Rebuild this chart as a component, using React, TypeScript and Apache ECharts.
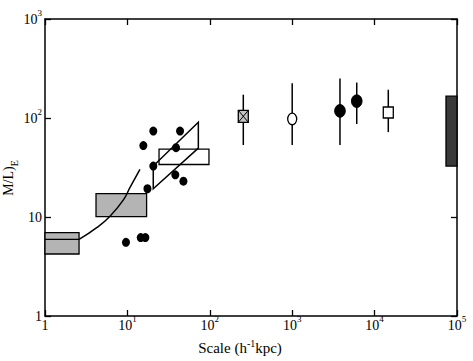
import React, { useEffect, useRef } from 'react';
import * as echarts from 'echarts';

// Scattered galaxy points
const DOT_X = [15.6, 20.6, 43.5, 38.9, 20.6, 17.5, 38.1, 47.8, 9.6, 14.5, 16.5];
const DOT_Y = [52.6, 73.8, 73.8, 50.2, 32.7, 19.3, 26.7, 23.0, 5.55, 6.2, 6.2];

// Flat segment and curve
const FLAT_X = [1, 2.59];
const FLAT_Y = [5.93, 5.93];
const CURVE_X = [2.59, 4.24, 6.15, 8.9, 10.8, 14.2];
const CURVE_Y = [5.93, 7.8, 10.2, 14.8, 20.0, 30.3];

// Rectangles: x-range and y-range
const BOX_X0 = [1, 4.16, 24.2, 73500];
const BOX_X1 = [2.59, 17.1, 97.7, 100000];
const BOX_Y0 = [4.23, 10.07, 33.9, 32.7];
const BOX_Y1 = [6.96, 17.2, 48.5, 166];
const BOX_KIND = ['light', 'light', 'open', 'dark'];

// Parallelogram vertices
const PARA_X = [20.6, 72.6, 72.6, 20.6];
const PARA_Y = [19.3, 49.6, 90.5, 32.7];

// Error-bar points
const ERR_X = [255, 1000, 3800, 6070, 14660];
const ERR_Y = [104, 97.8, 118, 148, 113.6];
const ERR_LO = [53.4, 53.4, 53.4, 87, 72];
const ERR_HI = [172, 224, 250, 228, 193];
const ERR_MARK = ['crossedSquare', 'openCircle', 'filledCircle', 'filledCircle', 'openSquare'];

// Tick labels
const X_TICKS = [1, 10, 100, 1000, 10000, 100000];
const X_TICK_LABELS = ['1', '10^1', '10^2', '10^3', '10^4', '10^5'];
const Y_TICKS = [1, 10, 100, 1000];
const Y_TICK_LABELS = ['1', '10', '10^2', '10^3'];

const FONT = "'Liberation Serif', 'Times New Roman', serif";

function richLabel(lbl: string, plainStyle: string) {
  if (lbl.includes('^')) {
    const [b, s] = lbl.split('^');
    return `{b|${b}}{s|${s}}`;
  }
  return `{${plainStyle}|${lbl}}`;
}

function findLabel(ticks: number[], labels: string[], v: number) {
  let best = 0;
  for (let i = 0; i < ticks.length; i++) {
    if (Math.abs(Math.log10(ticks[i]) - Math.log10(v)) < Math.abs(Math.log10(ticks[best]) - Math.log10(v))) best = i;
  }
  return labels[best];
}

export default function App() {
  const ref = useRef<HTMLDivElement>(null);
  useEffect(() => {
    if (!ref.current) return;
    const chart = echarts.init(ref.current, null, { renderer: 'svg' });
    const axisLine = { show: true, lineStyle: { color: '#000', width: 1.5 } };
    const axisTick = { show: true, inside: true, length: 6, lineStyle: { color: '#000', width: 1.3 } };

    const xRich = {
      b: { fontFamily: FONT, fontSize: 14, lineHeight: 14, color: '#000', verticalAlign: 'bottom' },
      s: { fontFamily: FONT, fontSize: 9, lineHeight: 9, color: '#000', verticalAlign: 'bottom', padding: [0, 0, 9, 0] },
      p: { fontFamily: FONT, fontSize: 14, lineHeight: 14, color: '#000', verticalAlign: 'bottom', padding: [4, 0, 0, 0] },
    };
    const yRich = {
      b: { fontFamily: FONT, fontSize: 14, lineHeight: 14, color: '#000', verticalAlign: 'bottom', padding: [12, 0, 0, 0] },
      s: { fontFamily: FONT, fontSize: 9, lineHeight: 9, color: '#000', verticalAlign: 'bottom', padding: [0, 0, 9, 0] },
      p: { fontFamily: FONT, fontSize: 14, lineHeight: 14, color: '#000', verticalAlign: 'bottom' },
    };

    const boxData = BOX_X0.map((x0, i) => [x0, BOX_X1[i], BOX_Y0[i], BOX_Y1[i]]);
    const errData = ERR_X.map((x, i) => [x, ERR_Y[i], ERR_LO[i], ERR_HI[i]]);

    chart.setOption({
      animation: false,
      backgroundColor: '#fff',
      grid: { left: 45, right: 16, top: 11, bottom: 45 },
      xAxis: [
        {
          type: 'log', logBase: 10, min: 1, max: 100000, position: 'bottom',
          axisLine, axisTick, splitLine: { show: false }, minorTick: { show: false },
          axisLabel: {
            margin: 2,
            formatter: (v: number) => richLabel(findLabel(X_TICKS, X_TICK_LABELS, v), 'p'),
            rich: xRich,
          },
          name: '{a|Scale (h}{s|-1}{a|kpc)}',
          nameLocation: 'middle',
          nameGap: 24,
          nameTextStyle: {
            padding: [0, 22, 0, 0],
            rich: {
              a: { fontFamily: FONT, fontSize: 15, lineHeight: 15, color: '#000', verticalAlign: 'bottom' },
              s: { fontFamily: FONT, fontSize: 10, lineHeight: 10, color: '#000', verticalAlign: 'bottom', padding: [0, 0, 7, 0] },
            },
          },
        },
        {
          type: 'log', logBase: 10, min: 1, max: 100000, position: 'top',
          axisLine, axisTick, splitLine: { show: false }, axisLabel: { show: false },
        },
      ],
      yAxis: [
        {
          type: 'log', logBase: 10, min: 1, max: 1000, position: 'left',
          axisLine, axisTick, splitLine: { show: false },
          axisLabel: {
            margin: 3,
            formatter: (v: number) => richLabel(findLabel(Y_TICKS, Y_TICK_LABELS, v), 'p'),
            rich: yRich,
          },
        },
        {
          type: 'log', logBase: 10, min: 1, max: 1000, position: 'right',
          axisLine, axisTick, splitLine: { show: false }, axisLabel: { show: false },
        },
      ],
      graphic: [
        {
          type: 'text', x: 12, y: 178, rotation: Math.PI / 2,
          style: {
            text: '{a|M/L)}{e|E}',
            align: 'center', verticalAlign: 'middle',
            rich: {
              a: { fontFamily: FONT, fontSize: 14, lineHeight: 14, fill: '#000', verticalAlign: 'bottom', padding: [0, 0, 4, 0] },
              e: { fontFamily: FONT, fontSize: 10, lineHeight: 10, fill: '#000', verticalAlign: 'bottom' },
            },
          },
        },
      ],
      series: [
        {
          type: 'custom', name: 'boxes', xAxisIndex: 0, yAxisIndex: 0, z: 2,
          encode: { x: [0, 1], y: [2, 3] },
          data: boxData,
          renderItem: (params: any, api: any) => {
            const i = params.dataIndex;
            const p0 = api.coord([api.value(0), api.value(3)]);
            const p1 = api.coord([api.value(1), api.value(2)]);
            const kind = BOX_KIND[i];
            const fill = kind === 'light' ? '#b4b4b4' : kind === 'dark' ? '#3a3a3a' : 'rgba(255,255,255,0)';
            return {
              type: 'rect',
              shape: { x: p0[0], y: p0[1], width: p1[0] - p0[0], height: p1[1] - p0[1] },
              style: { fill, stroke: '#000', lineWidth: 1.3 },
            };
          },
        },
        {
          type: 'custom', name: 'para', xAxisIndex: 0, yAxisIndex: 0, z: 3,
          data: [[PARA_X[0], PARA_Y[0]]],
          renderItem: (_params: any, api: any) => {
            const pts = PARA_X.map((x, i) => api.coord([x, PARA_Y[i]]));
            return {
              type: 'polygon',
              shape: { points: pts },
              style: { fill: 'rgba(255,255,255,0)', stroke: '#000', lineWidth: 1.5 },
            };
          },
        },
        {
          type: 'line', name: 'flat', xAxisIndex: 0, yAxisIndex: 0, z: 3,
          data: FLAT_X.map((x, i) => [x, FLAT_Y[i]]),
          symbol: 'none', lineStyle: { color: '#000', width: 1.3 },
        },
        {
          type: 'line', name: 'curve', xAxisIndex: 0, yAxisIndex: 0, z: 3,
          data: CURVE_X.map((x, i) => [x, CURVE_Y[i]]),
          smooth: true, symbol: 'none', lineStyle: { color: '#000', width: 1.5 },
        },
        {
          type: 'scatter', name: 'dots', xAxisIndex: 0, yAxisIndex: 0, z: 4,
          data: DOT_X.map((x, i) => [x, DOT_Y[i]]),
          symbol: 'circle', symbolSize: [8, 9],
          itemStyle: { color: '#000', opacity: 1 },
        },
        {
          type: 'custom', name: 'errors', xAxisIndex: 0, yAxisIndex: 0, z: 4,
          data: errData,
          renderItem: (params: any, api: any) => {
            const i = params.dataIndex;
            const c = api.coord([api.value(0), api.value(1)]);
            const lo = api.coord([api.value(0), api.value(2)]);
            const hi = api.coord([api.value(0), api.value(3)]);
            const mark = ERR_MARK[i];
            const children: any[] = [
              { type: 'line', shape: { x1: c[0], y1: lo[1], x2: c[0], y2: hi[1] }, style: { stroke: '#000', lineWidth: 1.5 } },
            ];
            if (mark === 'filledCircle') {
              children.push({ type: 'ellipse', shape: { cx: c[0], cy: c[1], rx: 5.3, ry: 6.3 }, style: { fill: '#000', stroke: '#000', lineWidth: 1 } });
            } else if (mark === 'openCircle') {
              children.push({ type: 'ellipse', shape: { cx: c[0], cy: c[1], rx: 4.5, ry: 5.8 }, style: { fill: '#fff', stroke: '#000', lineWidth: 1.3 } });
            } else if (mark === 'openSquare') {
              children.push({ type: 'rect', shape: { x: c[0] - 5, y: c[1] - 5.5, width: 10, height: 11 }, style: { fill: '#fff', stroke: '#000', lineWidth: 1.3 } });
            } else if (mark === 'crossedSquare') {
              children.push({ type: 'rect', shape: { x: c[0] - 5, y: c[1] - 6, width: 10, height: 12 }, style: { fill: '#c4c4c4', stroke: '#000', lineWidth: 1.3 } });
              children.push({ type: 'line', shape: { x1: c[0] - 5, y1: c[1] - 6, x2: c[0] + 5, y2: c[1] + 6 }, style: { stroke: '#000', lineWidth: 1 } });
              children.push({ type: 'line', shape: { x1: c[0] + 5, y1: c[1] - 6, x2: c[0] - 5, y2: c[1] + 6 }, style: { stroke: '#000', lineWidth: 1 } });
            }
            return { type: 'group', children };
          },
        },
      ],
    });
    return () => chart.dispose();
  }, []);
  return <div ref={ref} style={{ width: 473, height: 361, position: 'absolute', left: 0, top: 0 }} />;
}
